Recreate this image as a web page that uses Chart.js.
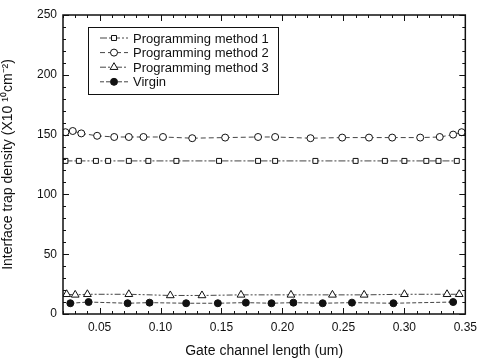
<!DOCTYPE html>
<html>
<head>
<meta charset="utf-8">
<script src="https://cdn.jsdelivr.net/npm/chart.js@4.4.1/dist/chart.umd.min.js"></script>
<style>
  html, body { margin: 0; padding: 0; background: #fff; }
  #wrap { width: 483px; height: 360px; position: relative; }
</style>
</head>
<body>
<div id="wrap"><canvas id="trapChart"></canvas></div>
<script>
// values
const seriesNames = ['Programming method 1', 'Programming method 2', 'Programming method 3', 'Virgin'];

const method1X = [0.022, 0.033, 0.047, 0.057, 0.074, 0.090, 0.113, 0.148, 0.180, 0.194, 0.227, 0.260, 0.284, 0.300, 0.318, 0.328, 0.343];
const method1Y = [128, 128, 128, 128, 128, 128, 128, 128, 128, 128, 128, 128, 128, 128, 128, 128, 128];

const method2X = [0.022, 0.028, 0.035, 0.048, 0.062, 0.074, 0.086, 0.102, 0.126, 0.153, 0.180, 0.194, 0.223, 0.249, 0.271, 0.290, 0.313, 0.329, 0.340, 0.347];
const method2Y = [152, 153, 151, 149, 148, 148, 148, 148, 147, 147.5, 148, 148, 147, 147.5, 147.5, 147.5, 147.5, 148, 150, 152];

const method3X = [0.023, 0.030, 0.040, 0.074, 0.108, 0.134, 0.166, 0.207, 0.241, 0.267, 0.300, 0.335, 0.345];
const method3Y = [16.5, 16, 16.5, 16.5, 15.5, 15.5, 16, 16, 16, 16, 16.5, 16.5, 16.5];

const virginX = [0.026, 0.041, 0.073, 0.091, 0.121, 0.147, 0.170, 0.191, 0.209, 0.233, 0.257, 0.291, 0.340];
const virginY = [9, 10, 9, 9.5, 9, 9, 9.5, 9, 9.5, 9, 9.5, 9, 10];

const xTicks = [0.05, 0.10, 0.15, 0.20, 0.25, 0.30, 0.35];
const yTicks = [0, 50, 100, 150, 200, 250];

const FONT = "'Liberation Sans', Arial, sans-serif";
const INK = '#111';
const LINE = '#444';

function pts(xs, ys) {
  return xs.map((x, i) => ({ x: x, y: ys[i] }));
}

// inward ticks on all four sides plus the frame
const frameTicks = {
  id: 'frameTicks',
  afterDraw(chart) {
    const ctx = chart.ctx;
    const a = chart.chartArea;
    const xs = chart.scales.x, ys = chart.scales.y;
    ctx.save();
    ctx.strokeStyle = INK;
    ctx.lineWidth = 1;
    for (let k = 2; k <= 35; k++) {
      const px = Math.round(xs.getPixelForValue(k / 100)) + 0.5;
      const len = k % 5 === 0 ? 6 : 3;
      ctx.beginPath();
      ctx.moveTo(px, a.bottom); ctx.lineTo(px, a.bottom - len);
      ctx.moveTo(px, a.top); ctx.lineTo(px, a.top + len);
      ctx.stroke();
    }
    for (let k = 0; k <= 25; k++) {
      const py = Math.round(ys.getPixelForValue(k * 10)) + 0.5;
      const len = k % 5 === 0 ? 6 : 3;
      ctx.beginPath();
      ctx.moveTo(a.left, py); ctx.lineTo(a.left + len, py);
      ctx.moveTo(a.right, py); ctx.lineTo(a.right - len, py);
      ctx.stroke();
    }
    ctx.lineWidth = 1.5;
    ctx.strokeRect(a.left, a.top, a.right - a.left, a.bottom - a.top);
    ctx.restore();
  }
};

// boxed legend inside the plot, upper left
const boxLegend = {
  id: 'boxLegend',
  afterDatasetsDraw(chart) {
    const ctx = chart.ctx;
    const a = chart.chartArea;
    const bx = a.left + 25, by = a.top + 12, bw = 190, bh = 67;
    ctx.save();
    ctx.fillStyle = '#fff';
    ctx.fillRect(bx, by, bw, bh);
    ctx.strokeStyle = INK;
    ctx.lineWidth = 1;
    ctx.strokeRect(bx + 0.5, by + 0.5, bw, bh);
    ctx.font = '13px ' + FONT;
    ctx.textBaseline = 'middle';
    chart.data.datasets.forEach((ds, i) => {
      const y = by + 11 + i * 14.6;
      ctx.strokeStyle = LINE;
      ctx.setLineDash(ds.borderDash || []);
      ctx.beginPath();
      ctx.moveTo(bx + 12, y); ctx.lineTo(bx + 40, y);
      ctx.stroke();
      ctx.setLineDash([]);
      ctx.fillStyle = ds.pointBackgroundColor;
      ctx.strokeStyle = INK;
      Chart.helpers.drawPoint(ctx, {
        pointStyle: ds.pointStyle, radius: ds.pointRadius, rotation: 0, borderWidth: 1
      }, bx + 26, y);
      ctx.fillStyle = INK;
      ctx.fillText(ds.label, bx + 45, y + 1);
    });
    ctx.restore();
  }
};

const ctxTrap = document.getElementById('trapChart').getContext('2d');
new Chart(ctxTrap, {
  type: 'scatter',
  data: {
    datasets: [
      {
        label: seriesNames[0],
        data: pts(method1X, method1Y),
        showLine: true,
        borderColor: LINE,
        borderWidth: 1,
        borderDash: [7, 2, 2, 2],
        pointStyle: 'rect',
        pointRadius: 3.5,
        pointBackgroundColor: '#fff',
        pointBorderColor: INK,
        pointBorderWidth: 1
      },
      {
        label: seriesNames[1],
        data: pts(method2X, method2Y),
        showLine: true,
        borderColor: LINE,
        borderWidth: 1,
        borderDash: [5, 3],
        pointStyle: 'circle',
        pointRadius: 3.5,
        pointBackgroundColor: '#fff',
        pointBorderColor: INK,
        pointBorderWidth: 1
      },
      {
        label: seriesNames[2],
        data: pts(method3X, method3Y),
        showLine: true,
        borderColor: LINE,
        borderWidth: 1,
        borderDash: [6, 2, 2, 2, 2, 2],
        pointStyle: 'triangle',
        pointRadius: 4.5,
        pointBackgroundColor: '#fff',
        pointBorderColor: INK,
        pointBorderWidth: 1
      },
      {
        label: seriesNames[3],
        data: pts(virginX, virginY),
        showLine: true,
        borderColor: LINE,
        borderWidth: 1,
        borderDash: [4, 2],
        pointStyle: 'circle',
        pointRadius: 3.5,
        pointBackgroundColor: INK,
        pointBorderColor: INK,
        pointBorderWidth: 1
      }
    ]
  },
  options: {
    responsive: true,
    maintainAspectRatio: false,
    animation: false,
    layout: { padding: { left: 0, right: 14, top: 15, bottom: 0 } },
    plugins: { legend: { display: false }, tooltip: { enabled: false } },
    scales: {
      x: {
        type: 'linear',
        min: 0.02,
        max: 0.35,
        afterBuildTicks: s => { s.ticks = xTicks.map(v => ({ value: v })); },
        afterFit: s => { s.height = 46; },
        grid: { display: false, drawTicks: false },
        border: { display: false },
        ticks: {
          color: INK, padding: 6, maxRotation: 0,
          font: { family: FONT, size: 12 },
          callback: v => v.toFixed(2)
        },
        title: {
          display: true, text: 'Gate channel length (um)', color: INK,
          font: { family: FONT, size: 14 }, padding: { top: 6, bottom: 0 }
        }
      },
      y: {
        min: 0,
        max: 250,
        afterBuildTicks: s => { s.ticks = yTicks.map(v => ({ value: v })); },
        afterFit: s => { s.width = 63; },
        grid: { display: false, drawTicks: false },
        border: { display: false },
        ticks: {
          color: INK, padding: 6,
          font: { family: FONT, size: 12 }
        },
        title: {
          display: true, text: 'Interface trap density (X10 \u00B9\u2070cm\u207B\u00B2)', color: INK,
          font: { family: FONT, size: 14 }, padding: { top: 0, bottom: 2 }
        }
      }
    }
  },
  plugins: [boxLegend, frameTicks]
});
</script>
</body>
</html>
